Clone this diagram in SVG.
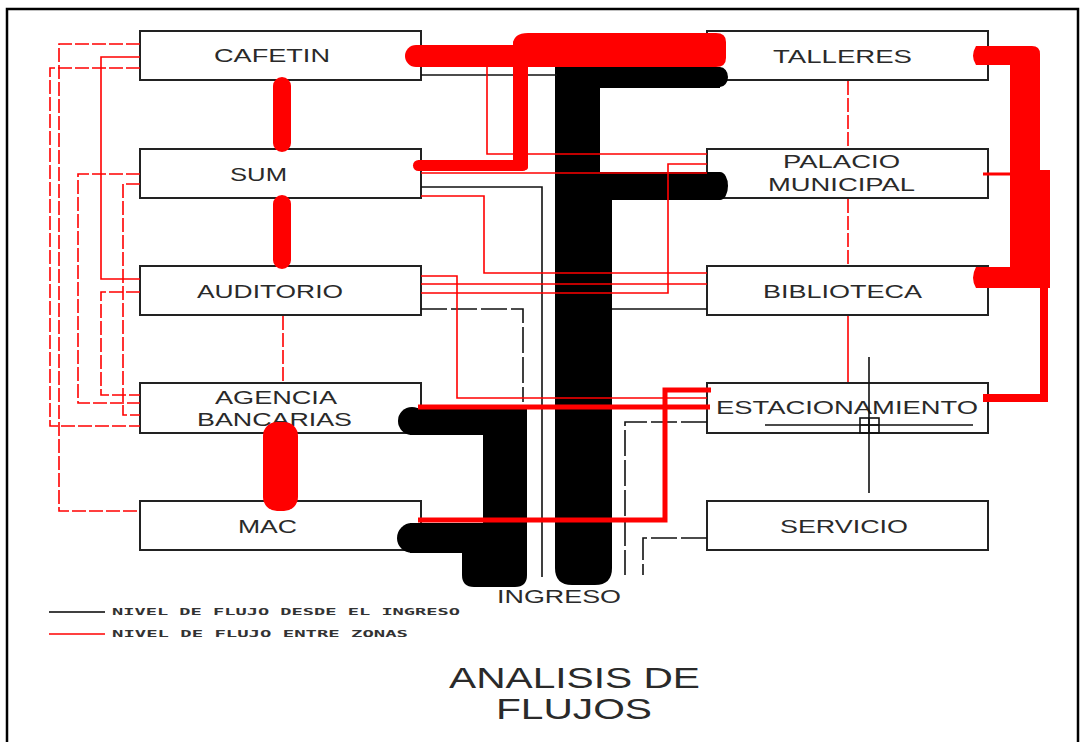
<svg xmlns="http://www.w3.org/2000/svg" width="1082" height="742" viewBox="0 0 1082 742">
<style>
.box{fill:#fff;stroke:#222;stroke-width:2}
.lbl{font-family:"Liberation Sans",Arial,sans-serif;font-size:18px;fill:#2a2a2a}
.rt{fill:none;stroke:#ff0000;stroke-width:1.6}
.rd{fill:none;stroke:#ff0000;stroke-width:1.6;stroke-dasharray:14 3}
.bt{fill:none;stroke:#111;stroke-width:1.6}
.bd{fill:none;stroke:#111;stroke-width:1.6;stroke-dasharray:26 4}
.rf{fill:#ff0000}
.bf{fill:#000}
.leg{font-family:"DejaVu Sans Mono","Liberation Mono",monospace;font-size:9px;font-weight:bold;fill:#333}
.ttl{font-family:"Liberation Sans",Arial,sans-serif;fill:#2a2a2a}
</style>
<rect x="0" y="0" width="1082" height="742" fill="#fff"/>
<rect x="7" y="9" width="1071" height="745" fill="none" stroke="#000" stroke-width="2.5"/>

<g id="cafetin"><rect class="box" x="140" y="31" width="281" height="49"/><text class="lbl" x="214" y="62" textLength="116" lengthAdjust="spacingAndGlyphs">CAFETIN</text></g>
<g id="sum"><rect class="box" x="140" y="149" width="281" height="49"/><text class="lbl" x="230" y="181" textLength="57" lengthAdjust="spacingAndGlyphs">SUM</text></g>
<g id="auditorio"><rect class="box" x="140" y="266" width="281" height="49"/><text class="lbl" x="197" y="298" textLength="146" lengthAdjust="spacingAndGlyphs">AUDITORIO</text></g>
<g id="agencia"><rect class="box" x="140" y="383" width="281" height="50"/><text class="lbl" x="215" y="404" textLength="122" lengthAdjust="spacingAndGlyphs">AGENCIA</text><text class="lbl" x="197" y="426" textLength="155" lengthAdjust="spacingAndGlyphs">BANCARIAS</text></g>
<g id="mac"><rect class="box" x="140" y="501" width="281" height="49"/><text class="lbl" x="238" y="533" textLength="59" lengthAdjust="spacingAndGlyphs">MAC</text></g>
<g id="talleres"><rect class="box" x="707" y="31" width="281" height="49"/><text class="lbl" x="773" y="63" textLength="139" lengthAdjust="spacingAndGlyphs">TALLERES</text></g>
<g id="palacio"><rect class="box" x="707" y="149" width="281" height="49"/><text class="lbl" x="783" y="168" textLength="117" lengthAdjust="spacingAndGlyphs">PALACIO</text><text class="lbl" x="768" y="191" textLength="147" lengthAdjust="spacingAndGlyphs">MUNICIPAL</text></g>
<g id="biblioteca"><rect class="box" x="707" y="266" width="281" height="49"/><text class="lbl" x="763" y="298" textLength="159" lengthAdjust="spacingAndGlyphs">BIBLIOTECA</text></g>
<g id="estacionamiento"><rect class="box" x="707" y="383" width="281" height="50"/><text class="lbl" x="716" y="414" textLength="262" lengthAdjust="spacingAndGlyphs">ESTACIONAMIENTO</text></g>
<g id="servicio"><rect class="box" x="707" y="501" width="281" height="49"/><text class="lbl" x="780" y="533" textLength="128" lengthAdjust="spacingAndGlyphs">SERVICIO</text></g>

<g id="connectors">
  <!-- left dashed / thin red -->
  <path class="rd" d="M140,44 H59 V511 H140"/>
  <path class="rt" d="M140,57 H101 V279 H140"/>
  <path class="rd" d="M140,68 H50 V426 H140"/>
  <path class="rd" d="M140,174 H78 V403 H140"/>
  <path class="rd" d="M140,184 H123 V415 H140"/>
  <path class="rd" d="M140,292 H101 V395 H140"/>
  <path class="rd" d="M283,316 V382"/>
  <path class="rd" d="M848,81 V148"/>
  <path class="rd" d="M848,199 V265"/>
  <path class="rt" d="M848,316 V382"/>

  <!-- black shapes -->
  <rect class="bf" x="557" y="67" width="163" height="21"/>
  <ellipse class="bf" cx="720" cy="77" rx="8" ry="10"/>
  <rect class="bf" x="555" y="67" width="45" height="140"/>
  <rect class="bf" x="555" y="172" width="165" height="28"/>
  <ellipse class="bf" cx="720" cy="186" rx="8" ry="14"/>
  <path class="bf" d="M555,180 H612 V568 Q612,585 595,585 H572 Q555,585 555,568 Z"/>

  <rect class="bf" x="410" y="408" width="117" height="27"/>
  <circle class="bf" cx="412" cy="421" r="14"/>
  <path class="bf" d="M483,408 H521 Q527,408 527,414 V560 H483 Z"/>
  <rect class="bf" x="410" y="523" width="117" height="30"/>
  <circle class="bf" cx="412" cy="538" r="15"/>
  <path class="bf" d="M462,540 H527 V575 Q527,587 515,587 H474 Q462,587 462,575 Z"/>

  <!-- thin black -->
  <path class="bt" d="M421,75 H557"/>
  <path class="bt" d="M421,187 H542 V577"/>
  <path class="bd" d="M421,309 H523 V402"/>
  <path class="bt" d="M612,309 H707"/>
  <path class="bd" d="M707,422 H625 V575"/>
  <path class="bd" d="M707,538 H643 V575"/>

  <!-- thin red centre -->
  <path class="rt" d="M487,67 V154 H707"/>
  <path class="rt" d="M421,173 H707"/>
  <path class="rt" d="M421,196 H484 V273 H707"/>
  <path class="rt" d="M707,164 H668 V293 H421"/>
  <path class="rt" d="M421,276 H457 V398 H707"/>
  <path class="rt" d="M421,284 H707"/>

  <!-- thick red centre -->
  <rect class="rf" x="405" y="45" width="315" height="22" rx="11"/>
  <path class="rf" d="M528,33 H716 Q726,33 726,42 V58 Q726,67 716,67 H513 V45 Q513,33 528,33 Z"/>
  <rect class="rf" x="513" y="40" width="15" height="130" rx="3"/>
  <rect class="rf" x="413" y="160" width="115" height="11" rx="5.5"/>
  <path fill="none" stroke="#ff0000" stroke-width="5" d="M418,407 H710"/>
  <path fill="none" stroke="#ff0000" stroke-width="5" d="M418,520 H665 V390 H711"/>

  <!-- left thick red -->
  <rect class="rf" x="273" y="77" width="18" height="75" rx="9"/>
  <rect class="rf" x="273" y="195" width="18" height="74" rx="9"/>
  <rect class="rf" x="263" y="422" width="35" height="89" rx="14"/>

  <!-- right thick red -->
  <path class="rf" d="M976,46 H1032 Q1040,46 1040,54 V288 H976 Q970,278 976,267 H1010 V65 H976 Q970,56 976,46 Z"/>
  <path fill="none" stroke="#ff0000" stroke-width="3" d="M983,174 H1044"/>
  <rect class="rf" x="1039" y="170" width="11" height="118"/>
  <path fill="none" stroke="#ff0000" stroke-width="8" d="M1044,285 V398 H983"/>
</g>

<g id="cursor"><path class="bt" d="M869,357 V493 M765,425 H973"/><rect x="860" y="418" width="19" height="15" fill="none" stroke="#111" stroke-width="1.6"/><path class="bt" d="M869,418 V433 M860,425 H879"/></g>

<g id="legend">
  <path d="M49,612 H105" stroke="#000" stroke-width="1.5"/>
  <text class="leg" x="112" y="615" textLength="348" lengthAdjust="spacingAndGlyphs">NIVEL DE FLUJO DESDE EL INGRESO</text>
  <path d="M49,634 H105" stroke="#ff0000" stroke-width="1.5"/>
  <text class="leg" x="112" y="637" textLength="296" lengthAdjust="spacingAndGlyphs">NIVEL DE FLUJO ENTRE ZONAS</text>
</g>
<g id="ingreso"><text class="ttl" x="497" y="603" font-size="19" textLength="124" lengthAdjust="spacingAndGlyphs">INGRESO</text></g>
<g id="title">
  <text class="ttl" x="449" y="688" font-size="30" textLength="251" lengthAdjust="spacingAndGlyphs">ANALISIS DE</text>
  <text class="ttl" x="496" y="719" font-size="30" textLength="156" lengthAdjust="spacingAndGlyphs">FLUJOS</text>
</g>
</svg>
